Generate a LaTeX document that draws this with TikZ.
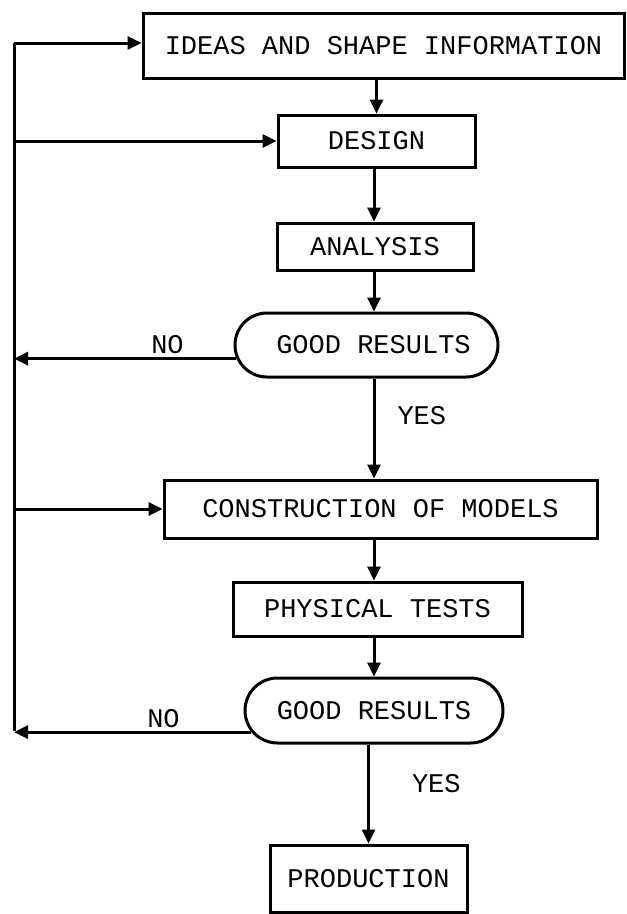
\documentclass[tikz,border=0pt]{standalone}
\usepackage{fontspec}
\setmonofont{Liberation Mono}
\usepackage{tikz}
\usetikzlibrary{
    positioning,
    arrows.meta,
    shapes.misc
}

\begin{document}
\begin{tikzpicture}[x=1pt, y=-1pt,
        box/.style={draw, line width=3pt, rectangle, inner sep=0pt,
            font=\ttfamily\fontsize{27}{32}\selectfont},
        pill/.style={box, rounded rectangle},
        flow/.style={line width=3pt},
        arr/.style={flow, -{Triangle[length=14pt, width=13pt]}},
        lbl/.style={font=\ttfamily\fontsize{27}{32}\selectfont, inner sep=2pt}
    ]
            \useasboundingbox (0,0) rectangle (627,914);

            % boxes of the flow chart
            \node[box, minimum width=481pt, minimum height=65pt] (ideas) at (383.5,45.5) {IDEAS AND SHAPE INFORMATION};
            \node[box, minimum width=197pt, minimum height=52pt] (design) at (376.5,141) {DESIGN};
            \node[box, minimum width=196pt, minimum height=47pt] (analysis) at (375,246.5) {ANALYSIS};
            \node[pill, minimum width=263pt, minimum height=64pt] (good1) at (366.5,345) {\hspace{14pt}GOOD RESULTS};
            \node[box, minimum width=433pt, minimum height=58pt] (models) at (380.5,509) {CONSTRUCTION OF MODELS};
            \node[box, minimum width=289pt, minimum height=54pt] (tests) at (377.5,609) {PHYSICAL TESTS};
            \node[pill, minimum width=258pt, minimum height=65pt] (good2) at (374,710.5) {GOOD RESULTS};
            \node[box, minimum width=197pt, minimum height=67pt] (production) at (368.5,878.5) {PRODUCTION};

            % return line on the left, and the line the main arrows run on
            \coordinate (railtop) at (14,43);
            \coordinate (railbot) at (14,731);
            \coordinate (axis) at (374,0);
            \draw[flow] (railtop) -- (railbot);

            % main path
            \draw[arr] (ideas.south -| design.north) -- (design.north);
            \draw[arr] (design.south -| axis) -- (analysis.north -| axis);
            \draw[arr] (analysis.south -| axis) -- (good1.north -| axis);
            \draw[arr] (good1.south -| axis) -- (models.north -| axis)
                node[lbl, pos=0.37, right=20pt] {YES};
            \draw[arr] (models.south -| axis) -- (tests.north -| axis);
            \draw[arr] (tests.south -| axis) -- (good2.north -| axis);
            \draw[arr] (good2.south -| production.north) -- (production.north)
                node[lbl, pos=0.39, right=40pt] {YES};

            % feedback
            \draw[arr] (good1.186) -- (good1.186 -| railtop) node[lbl, pos=0.31, above=1pt] {NO};
            \draw[arr] (good2.190) -- (good2.190 -| railbot) node[lbl, pos=0.37, above=1pt] {NO};
            \draw[arr] (railtop) -- (railtop -| ideas.west);
            \draw[arr] (design.west -| railtop) -- (design.west);
            \draw[arr] (models.west -| railtop) -- (models.west);
        \end{tikzpicture}
\end{document}
